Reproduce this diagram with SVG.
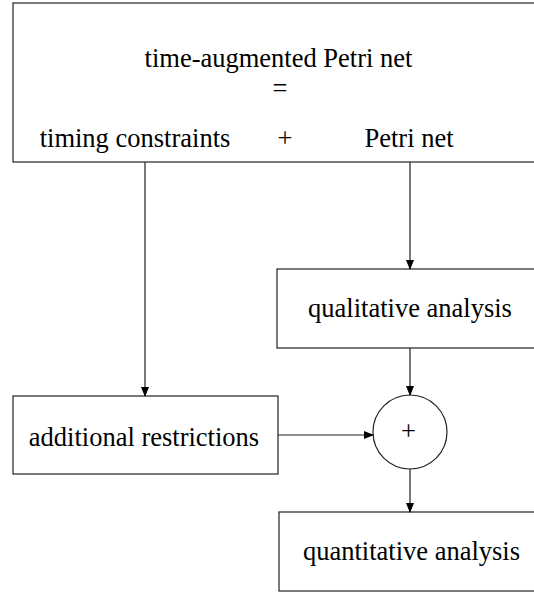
<svg xmlns="http://www.w3.org/2000/svg" width="534" height="596" viewBox="0 0 534 596">
<style>
.box{fill:#fff;stroke:#222;stroke-width:1.2}
.t{font-family:"Liberation Serif","Times New Roman",serif;font-size:26.5px;fill:#000;text-anchor:middle}
.c{fill:none;stroke:#222;stroke-width:1.2}
</style>
<defs>
<marker id="ah" markerWidth="10" markerHeight="8" refX="9" refY="4" orient="auto" markerUnits="userSpaceOnUse">
<path d="M0,0 L10,4 L0,8 Z" fill="#000"/>
</marker>
</defs>
<g id="top">
<rect class="box" x="13" y="3" width="530" height="159"/>
<text class="t" x="278.5" y="67">time-augmented Petri net</text>
<text class="t" x="280" y="97">=</text>
<text class="t" x="135" y="147">timing constraints</text>
<text class="t" x="285" y="147">+</text>
<text class="t" x="409" y="147">Petri net</text>
</g>
<g id="qual">
<rect class="box" x="277" y="269" width="266" height="79"/>
<text class="t" x="410" y="317">qualitative analysis</text>
</g>
<g id="addr">
<rect class="box" x="13" y="396" width="265" height="78"/>
<text class="t" x="144" y="446">additional restrictions</text>
</g>
<g id="plus">
<circle class="box" cx="410" cy="432" r="37"/>
<text class="t" x="408.5" y="440">+</text>
</g>
<g id="quant">
<rect class="box" x="279" y="512" width="264" height="79"/>
<text class="t" x="411.5" y="560">quantitative analysis</text>
</g>
<g id="connectors">
<line class="c" x1="145" y1="162" x2="145" y2="396" marker-end="url(#ah)"/>
<line class="c" x1="410" y1="162" x2="410" y2="269" marker-end="url(#ah)"/>
<line class="c" x1="410" y1="348" x2="410" y2="395" marker-end="url(#ah)"/>
<line class="c" x1="278" y1="435" x2="373" y2="435" marker-end="url(#ah)"/>
<line class="c" x1="410" y1="469" x2="410" y2="512" marker-end="url(#ah)"/>
</g>
</svg>
